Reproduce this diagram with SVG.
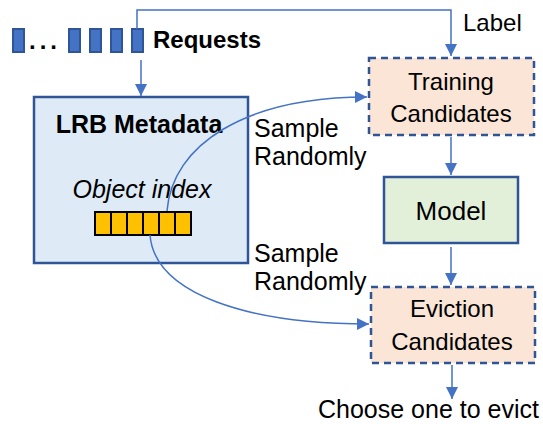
<svg xmlns="http://www.w3.org/2000/svg" width="543" height="424" viewBox="0 0 543 424">
<style>
text{font-family:"Liberation Sans",Arial,sans-serif;fill:#000}
.t{font-size:24px;text-anchor:middle}
.l{font-size:25px}
.req{fill:#4472C4;stroke:#2F5597;stroke-width:2}
.conn{fill:none;stroke:#4472C4;stroke-width:1.5}
.cell{fill:#FFC000;stroke:#000;stroke-width:2}
</style>
<defs>
<marker id="ah" viewBox="0 0 12 12" refX="12" refY="6" markerWidth="12" markerHeight="12" markerUnits="userSpaceOnUse" orient="auto">
<path d="M0,0 L12,6 L0,12 Z" fill="#4472C4"/>
</marker>
</defs>
<g id="requests">
<rect class="req" x="13" y="29" width="11" height="23"/>
<text x="29" y="49" style="font-size:24px;font-weight:bold;letter-spacing:4px">...</text>
<rect class="req" x="69" y="29" width="11" height="23"/>
<rect class="req" x="90" y="29" width="11" height="23"/>
<rect class="req" x="111" y="29" width="11" height="23"/>
<rect class="req" x="132" y="29" width="11" height="23"/>
<text x="153" y="48" style="font-size:24px;font-weight:bold">Requests</text>
</g>
<g id="lrb">
<rect x="34" y="97" width="214" height="166" fill="#DEEBF7" stroke="#2F5597" stroke-width="2.5"/>
<text class="t" x="139" y="133" style="font-weight:bold;font-size:25px">LRB Metadata</text>
<text class="t" x="142" y="198" style="font-style:italic;font-size:25px">Object index</text>
<g id="object-index">
<rect class="cell" x="95" y="212" width="16" height="23"/>
<rect class="cell" x="111" y="212" width="16" height="23"/>
<rect class="cell" x="127" y="212" width="16" height="23"/>
<rect class="cell" x="143" y="212" width="16" height="23"/>
<rect class="cell" x="159" y="212" width="16" height="23"/>
<rect class="cell" x="175" y="212" width="16" height="23"/>
</g>
</g>
<g id="training">
<rect x="369" y="58" width="165" height="77" fill="#FBE5D6" stroke="#2F5597" stroke-width="2.5" stroke-dasharray="7,5"/>
<text class="t" x="451" y="90">Training</text>
<text class="t" x="451" y="122">Candidates</text>
</g>
<g id="model">
<rect x="384" y="177" width="134" height="66" fill="#E2F0D9" stroke="#2F5597" stroke-width="2.5"/>
<text class="t" x="451" y="220" style="font-size:26px">Model</text>
</g>
<g id="eviction">
<rect x="371" y="287" width="164" height="76" fill="#FBE5D6" stroke="#2F5597" stroke-width="2.5" stroke-dasharray="7,5"/>
<text class="t" x="452" y="317">Eviction</text>
<text class="t" x="452" y="350">Candidates</text>
</g>
<g id="connectors">
<path class="conn" d="M137,29 V10 H451 V56" marker-end="url(#ah)"/>
<path class="conn" d="M141,60 V96" marker-end="url(#ah)"/>
<path class="conn" d="M451,137 V175" marker-end="url(#ah)"/>
<path class="conn" d="M451,247 V285" marker-end="url(#ah)"/>
<path class="conn" d="M452,365 V399" marker-end="url(#ah)"/>
<path class="conn" d="M167,211 C172,145 245,97 367,97" marker-end="url(#ah)"/>
<path class="conn" d="M150,235 C155,295 250,324 369,324" marker-end="url(#ah)"/>
</g>
<g id="labels">
<text class="l" x="463" y="31" style="font-size:24px">Label</text>
<text class="l" x="254" y="137">Sample</text>
<text class="l" x="254" y="165">Randomly</text>
<text class="l" x="254" y="262">Sample</text>
<text class="l" x="254" y="290">Randomly</text>
<text class="l" x="318" y="418">Choose one to evict</text>
</g>
</svg>
